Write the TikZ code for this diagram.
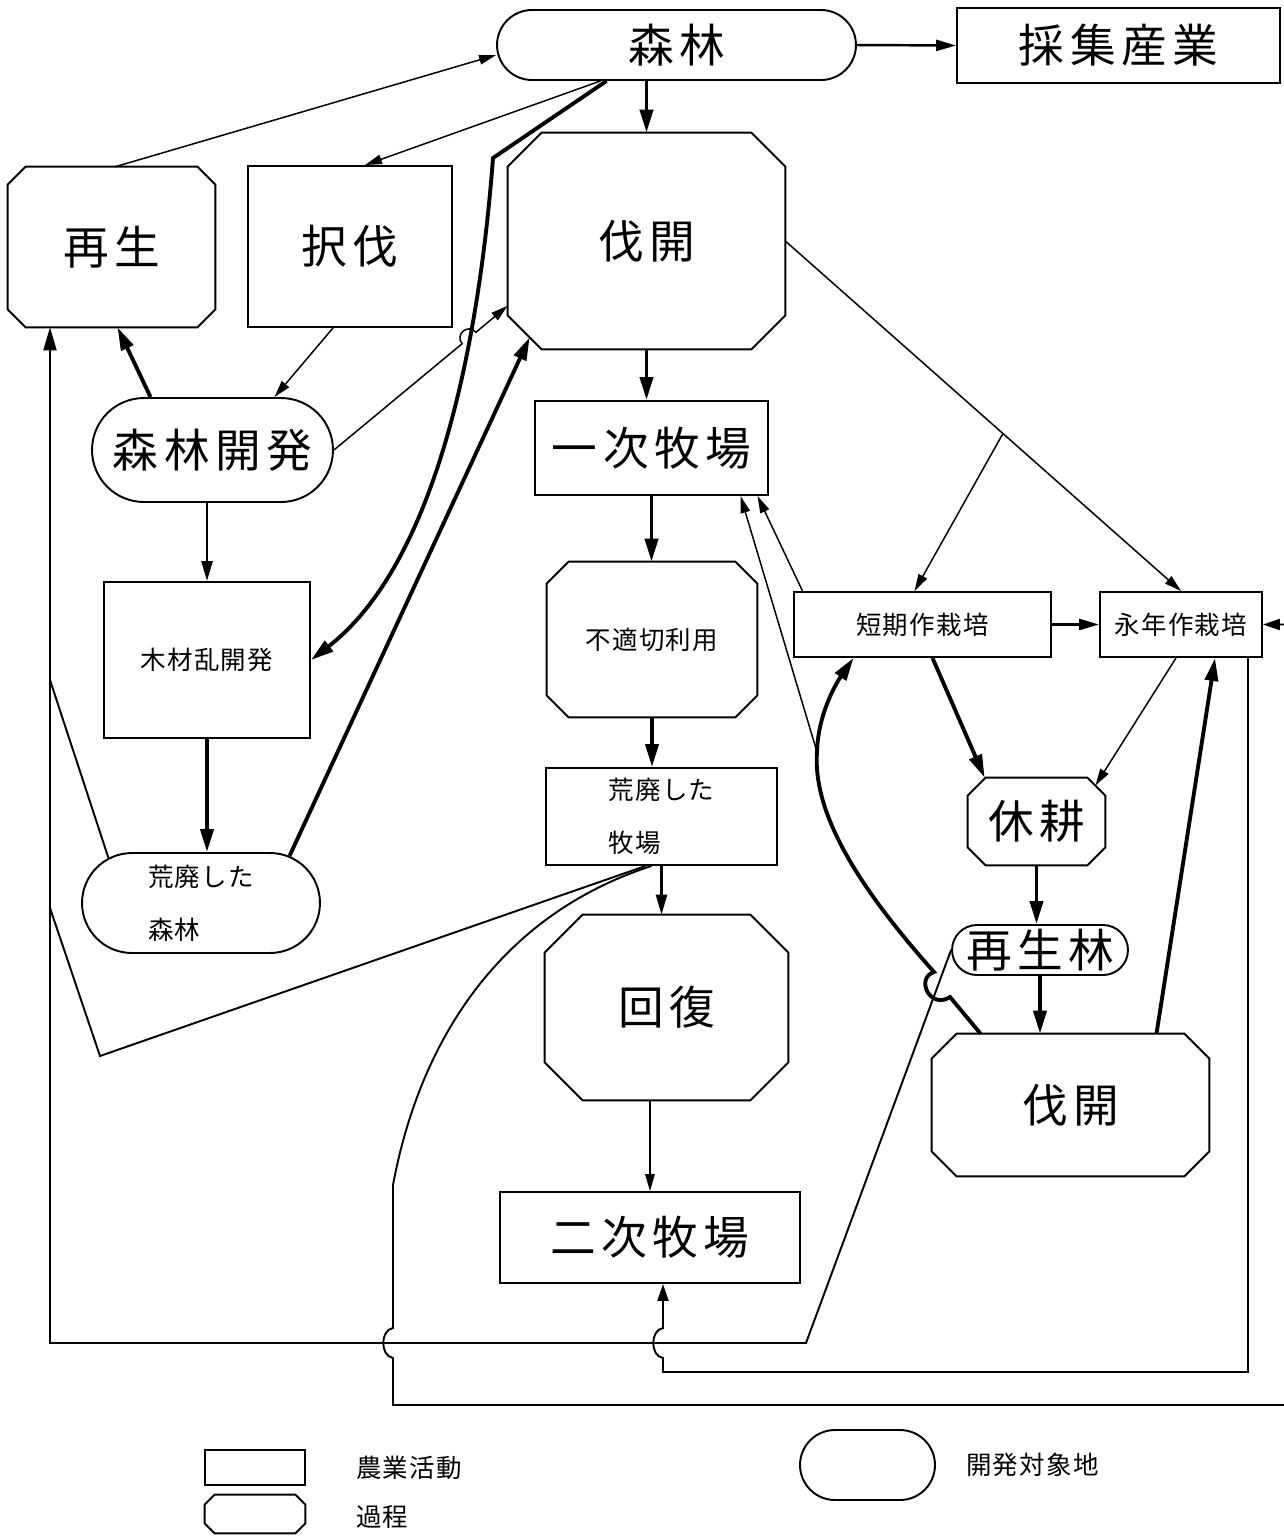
\documentclass[tikz,border=0pt]{standalone}
\usepackage{fontspec}
\newfontfamily\jpbig[LetterSpace=12]{Noto Sans CJK JP}
\newfontfamily\jpsml[LetterSpace=5]{Noto Sans CJK JP}
\usetikzlibrary{positioning,calc,arrows.meta,shapes.misc}
% octagon outline round a named node: \octo{node}{cut}
\newcommand\octo[2]{%
  \draw[line width=1.1pt] ([xshift=#2]#1.north west) -- ([xshift=-#2]#1.north east)
    -- ([yshift=-#2]#1.north east) -- ([yshift=#2]#1.south east)
    -- ([xshift=-#2]#1.south east) -- ([xshift=#2]#1.south west)
    -- ([yshift=#2]#1.south west) -- ([yshift=-#2]#1.north west) -- cycle;}

\begin{document}
\begin{tikzpicture}[x=0.02cm,y=-0.02cm,
  big/.style={font=\jpbig\fontsize{26}{30}\selectfont},
  sml/.style={font=\jpsml\fontsize{14.5}{30}\selectfont},
  sz/.style 2 args={minimum width=#1cm,minimum height=#2cm},
  act/.style={draw,line width=1.1pt,inner sep=0pt},
  proc/.style={inner sep=0pt},
  land/.style={draw,line width=1.1pt,inner sep=0pt,rounded rectangle},
  thk/.style={line width=2.2pt,-{Triangle[length=4.6mm,width=2.6mm]}},
  mid/.style={line width=1.4pt,-{Triangle[length=4mm,width=2.2mm]}},
  thn/.style={line width=0.85pt,-{Triangle[length=3.4mm,width=1.9mm]}},
  wire/.style={line width=1.1pt}]
  \fill[white] (0,0) rectangle (1284,1536);
  \useasboundingbox (0,0) rectangle (1284,1536);

  % boxes
  \node[land,big,sz={7.18}{1.4}]   (forest)  at (676.5,45)    {森林};
  \node[act,big,sz={6.46}{1.5}]    (gather)  at (1118.5,45.5) {採集産業};
  \node[proc,big,sz={4.14}{3.2}]   (regen)   at (111.5,247)   {再生};
  \node[act,big,sz={4.08}{3.22}]   (select)  at (350,246.5)   {択伐};
  \node[proc,big,sz={5.54}{4.32}]  (clear)   at (646.5,241)   {伐開};
  \node[land,big,sz={4.82}{2.08}]  (fdev)    at (212.5,450)   {森林開発};
  \node[act,big,sz={4.66}{1.88}]   (past1)   at (651.5,448)   {一次牧場};
  \node[act,sml,sz={4.12}{3.12}]   (timber)  at (207,660)     {木材乱開発};
  \node[proc,sml,sz={4.2}{3.1}]    (misuse)  at (652,639.5)   {不適切利用};
  \node[act,sml,sz={5.14}{1.3}]    (short)   at (922.5,624.5) {短期作栽培};
  \node[act,sml,sz={3.24}{1.3}]    (perm)    at (1181,624.5)  {永年作栽培};
  \node[act,sml,sz={4.62}{1.94},align=left] (wpast) at (661.5,816.5) {荒廃した\\牧場};
  \node[land,sml,sz={4.76}{2.0},align=left] (wforest) at (201,903) {荒廃した\\森林};
  \node[proc,big,sz={2.74}{1.74}]  (fallow)  at (1036.5,821.5) {休耕};
  \node[land,big,sz={3.52}{1.0}]   (rforest) at (1040,950)    {再生林};
  \node[proc,big,sz={4.86}{3.7}]   (recov)   at (666.5,1007.5) {回復};
  \node[proc,big,sz={5.54}{2.84}]  (clear2)  at (1070.5,1105) {伐開};
  \node[act,big,sz={6.0}{1.82}]    (past2)   at (650,1237.5)  {二次牧場};
  \octo{regen}{0.36cm}
  \octo{clear}{0.68cm}
  \octo{misuse}{0.44cm}
  \octo{fallow}{0.36cm}
  \octo{recov}{0.76cm}
  \octo{clear2}{0.5cm}

  % legend
  \node[act,sz={2.0}{0.7}]         (kact)    at (255,1467.5)  {};
  \node[sml,anchor=west]           (tact)    at (350,1467.5)  {農業活動};
  \node[proc,sz={2.0}{0.76}]       (kproc)   at (255,1514)    {};
  \node[sml,anchor=west]           (tproc)   at (350,1517)    {過程};
  \node[land,sz={2.7}{1.4}]        (kland)   at (867.5,1465)  {};
  \node[sml,anchor=west]           (tland)   at (960,1465)    {開発対象地};
  \octo{kproc}{0.2cm}

  \coordinate (lft) at (50,1343);
  \coordinate (fork) at ($(clear.east)!0.55!(perm.north)$);
  \coordinate (merge) at (817,752);

  % forest
  \draw[mid] (forest.east) -- (gather.west);
  \draw[thk] (forest.south -| clear.north) -- (clear.north);
  \draw[thn] ([shift={(-76,0)}]forest.south) -- ([shift={(15,0)}]select.north);
  \draw[thn] ([shift={(4,0)}]regen.north) -- ([shift={(0,10)}]forest.west);
  \draw[thk] ([shift={(-70,0)}]forest.south) -- (493,158)
    .. controls (480,330) and (440,560) .. (timber.east);

  % left side
  \draw[thn] ([shift={(-17,0)}]select.south) -- ([shift={(62,0)}]fdev.north);
  \draw[thk] ([shift={(-62,0)}]fdev.north) -- ([shift={(6,0)}]regen.south);
  \draw[mid] (fdev.south -| timber.north) -- (timber.north);
  \draw[thn] (fdev.east) -- (462.1,343.7) .. controls (454.5,334.4) and (468.3,323.0) .. (475.9,332.3) -- (clear.205);
  \draw[thk] (timber.south) -- (timber.south |- wforest.north);
  \draw[thk] (wforest.28) -- ([shift={(22,-12)}]clear.south west);
  \draw[wire,-{Triangle[length=4.6mm,width=2.6mm]}] (rforest.west) -- (806,1343) -- (lft) -- (regen.south -| lft);
  \draw[wire] (wforest.154) -- (50,680);
  \draw[wire] ([shift={(-16,0)}]wpast.south) -- (100,1056) -- (50,908);

  % long loops
  \draw[wire,-{Triangle[length=3.4mm,width=2.2mm]}] ([shift={(-10,0)}]wpast.south)
    .. controls (500,915) and (420,1040) .. (393,1185) -- (393,1328)
    .. controls (380,1330) and (380,1356) .. (393,1358) -- (393,1405)
    -- (1296,1405) -- (1296,624.5) -- (perm.east);
  \draw[wire,-{Triangle[length=3.4mm,width=2.2mm]}] ([shift={(67,0)}]perm.south) -- (1248,1372) -- (663,1372) -- (663,1358)
    .. controls (650,1356) and (650,1330) .. (663,1328) -- ([shift={(13,0)}]past2.south);

  % centre column
  \draw[thk] (clear.south) -- (clear.south |- past1.north);
  \draw[thk] (past1.south) -- (past1.south |- misuse.north);
  \draw[thk] (misuse.south) -- (misuse.south |- wpast.north);
  \draw[mid] (wpast.south) -- (wpast.south |- recov.north);
  \draw[thn] (past2.north |- recov.south) -- (past2.north);

  % right side
  \draw[thn] (clear.east) -- (perm.north);
  \draw[thn] (fork) -- ([shift={(-8,0)}]short.north);
  \draw[mid] (short.east) -- (perm.west);
  \draw[thk] ([shift={(10,0)}]short.south) -- ([shift={(17,0)}]fallow.north west);
  \draw[thn] ([shift={(-5,0)}]perm.south) -- ([shift={(-10,8)}]fallow.north east);
  \draw[thk] (fallow.south) -- (fallow.south |- rforest.north);
  \draw[thk] (rforest.south) -- (rforest.south |- clear2.north);
  \draw[thk] ([shift={(86,0)}]clear2.north) -- ([shift={(34,0)}]perm.south);
  \draw[thn] ([shift={(-120,0)}]short.north) -- ([shift={(106,0)}]past1.south);
  \draw[thk] ([shift={(-90,0)}]clear2.north) -- (950,997)
    .. controls (930,1010) and (915,978) .. (934,972)
    .. controls (870,900) and (812,820) .. (merge)
    .. controls (818,715) and (835,685) .. ([shift={(-69,0)}]short.south);
  \draw[thn] (merge) -- ([shift={(89,0)}]past1.south);
\end{tikzpicture}
\end{document}
